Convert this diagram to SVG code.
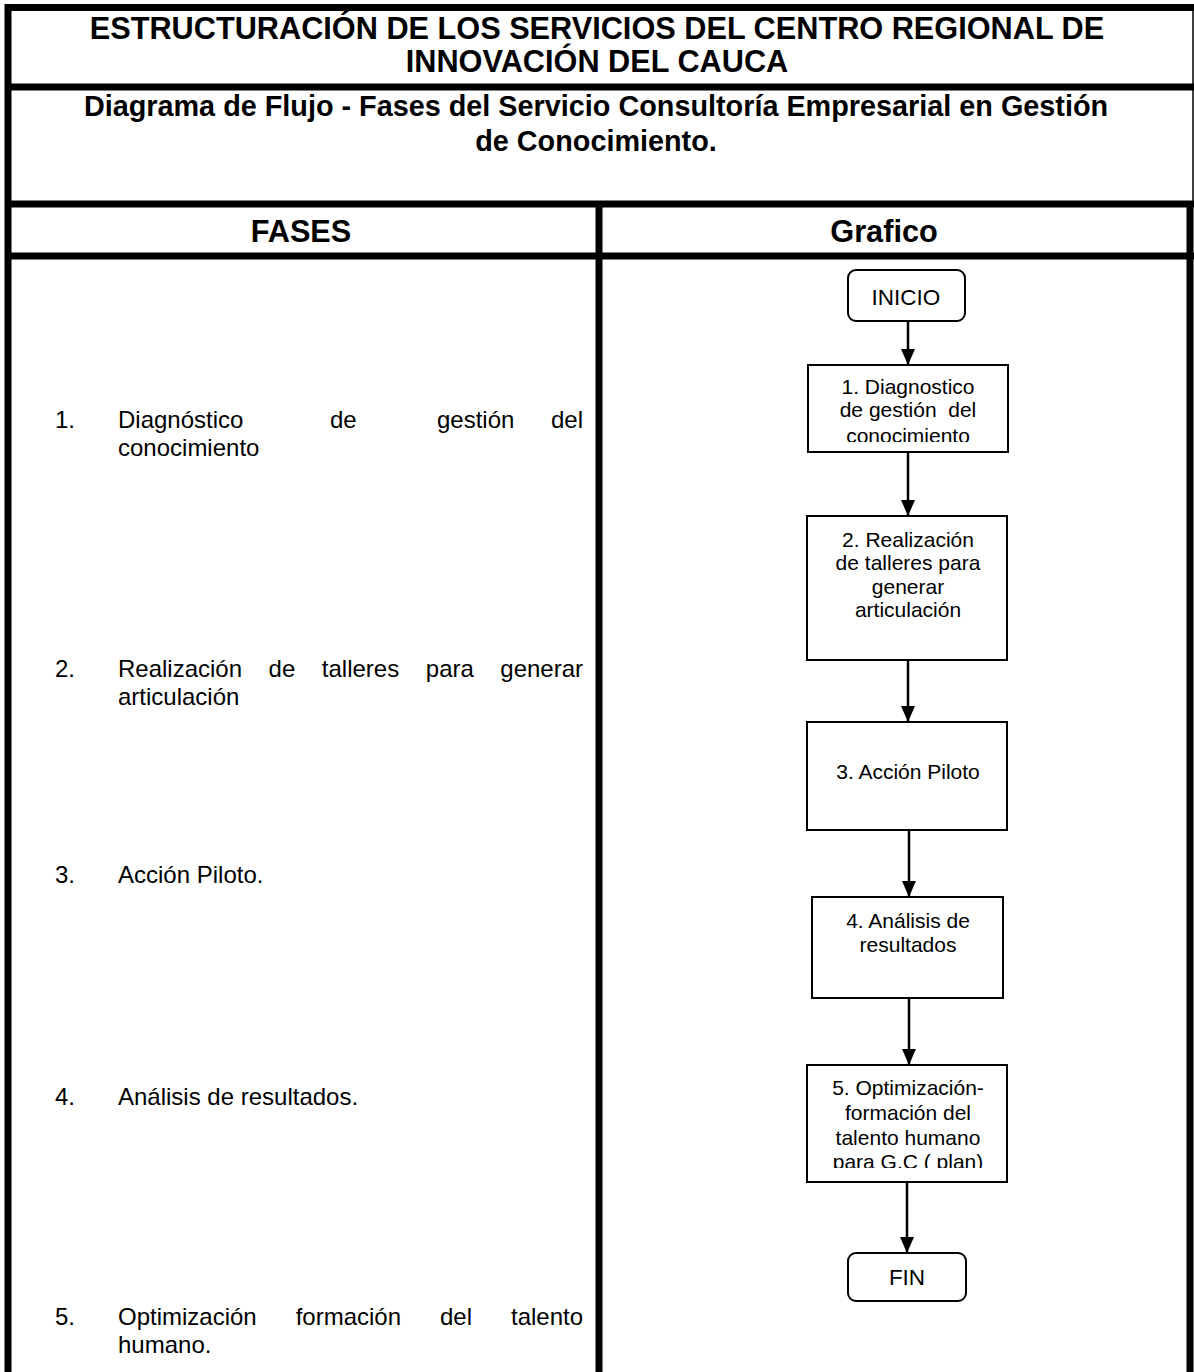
<svg xmlns="http://www.w3.org/2000/svg" width="1194" height="1372" viewBox="0 0 1194 1372">
  <defs>
    <marker id="arrow" markerWidth="16" markerHeight="14" refX="16" refY="7" orient="auto" markerUnits="userSpaceOnUse" viewBox="0 0 16 14">
      <path d="M0,0 L16,7 L0,14 Z" fill="#000"/>
    </marker>
    <clipPath id="clip1"><rect x="808" y="366" width="200" height="76"/></clipPath>
    <clipPath id="clip5"><rect x="808" y="1066" width="200" height="102"/></clipPath>
  </defs>
  <style>
    .frame { stroke: #000; stroke-width: 7; fill: none; }
    .thin { stroke: #000; stroke-width: 1.5; fill: none; }
    .title { font-family: "Liberation Sans", Arial, sans-serif; font-weight: bold; font-size: 30.7px; fill: #000; text-anchor: middle; }
    .sub { font-family: "Liberation Sans", Arial, sans-serif; font-weight: bold; font-size: 28.8px; fill: #000; text-anchor: middle; }
    .body { font-family: "Liberation Sans", Arial, sans-serif; font-size: 24px; fill: #000; }
    .box { fill: #fff; stroke: #000; stroke-width: 2; }
    .lbl { font-family: "Liberation Sans", Arial, sans-serif; font-size: 21px; fill: #000; text-anchor: middle; }
    .term { font-family: "Liberation Sans", Arial, sans-serif; font-size: 22.5px; fill: #000; text-anchor: middle; }
    .conn { stroke: #000; stroke-width: 2.5; fill: none; marker-end: url(#arrow); }
  </style>

  <rect width="1194" height="1372" fill="#fff"/>

  <!-- table frame -->
  <g id="frame">
    <line class="frame" x1="5" y1="7.5" x2="1194" y2="7.5"/>
    <line class="frame" x1="8" y1="4" x2="8" y2="1372"/>
    <line class="thin" x1="1193" y1="4" x2="1193" y2="204"/>
    <line class="frame" x1="5" y1="87" x2="1194" y2="87"/>
    <line class="frame" x1="5" y1="204" x2="1194" y2="204"/>
    <line class="frame" x1="5" y1="256" x2="1194" y2="256"/>
    <line class="frame" x1="599" y1="201" x2="599" y2="1372"/>
    <line class="frame" x1="1190" y1="201" x2="1190" y2="1372"/>
  </g>

  <!-- headings -->
  <g id="headings">
    <text class="title" x="597" y="39">ESTRUCTURACIÓN DE LOS SERVICIOS DEL CENTRO REGIONAL DE</text>
    <text class="title" x="597" y="72">INNOVACIÓN DEL CAUCA</text>
    <text class="sub" x="596" y="116">Diagrama de Flujo - Fases del Servicio Consultoría Empresarial en Gestión</text>
    <text class="sub" x="596" y="151">de Conocimiento.</text>
    <text class="title" x="301" y="242">FASES</text>
    <text class="title" x="884" y="242">Grafico</text>
  </g>

  <!-- phase list -->
  <g id="fases">
    <text class="body" x="55" y="428">1.</text>
    <text class="body" y="428"><tspan x="118">Diagnóstico</tspan><tspan x="330">de</tspan><tspan x="437">gestión</tspan><tspan x="551">del</tspan></text>
    <text class="body" x="118" y="456">conocimiento</text>

    <text class="body" x="55" y="677">2.</text>
    <text class="body" y="677"><tspan x="118">Realización</tspan><tspan x="268.6">de</tspan><tspan x="321.8">talleres</tspan><tspan x="425.8">para</tspan><tspan x="500.3">generar</tspan></text>
    <text class="body" x="118" y="705">articulación</text>

    <text class="body" x="55" y="883">3.</text>
    <text class="body" x="118" y="883">Acción Piloto.</text>

    <text class="body" x="55" y="1105">4.</text>
    <text class="body" x="118" y="1105">Análisis de resultados.</text>

    <text class="body" x="55" y="1325">5.</text>
    <text class="body" y="1325"><tspan x="118">Optimización</tspan><tspan x="295.7">formación</tspan><tspan x="440">del</tspan><tspan x="511">talento</tspan></text>
    <text class="body" x="118" y="1353">humano.</text>
  </g>

  <!-- connectors -->
  <g id="connectors">
    <line class="conn" x1="908" y1="321" x2="908" y2="365"/>
    <line class="conn" x1="908" y1="452" x2="908" y2="516"/>
    <line class="conn" x1="908" y1="660" x2="908" y2="722"/>
    <line class="conn" x1="909" y1="830" x2="909" y2="897"/>
    <line class="conn" x1="909" y1="998" x2="909" y2="1065"/>
    <line class="conn" x1="907" y1="1182" x2="907" y2="1253"/>
  </g>

  <!-- flowchart nodes -->
  <g id="inicio">
    <rect class="box" x="848" y="270" width="117" height="51" rx="8"/>
    <text class="term" x="906" y="305">INICIO</text>
  </g>
  <g id="fase1">
    <rect class="box" x="808" y="365" width="200" height="87"/>
    <g clip-path="url(#clip1)">
      <text class="lbl" x="908" y="394">1. Diagnostico</text>
      <text class="lbl" x="908" y="417" xml:space="preserve">de gestión  del</text>
      <text class="lbl" x="908" y="443">conocimiento</text>
    </g>
  </g>
  <g id="fase2">
    <rect class="box" x="807" y="516" width="200" height="144"/>
    <text class="lbl" x="908" y="547">2. Realización</text>
    <text class="lbl" x="908" y="570">de talleres para</text>
    <text class="lbl" x="908" y="594">generar</text>
    <text class="lbl" x="908" y="617">articulación</text>
  </g>
  <g id="fase3">
    <rect class="box" x="807" y="722" width="200" height="108"/>
    <text class="lbl" x="908" y="779">3. Acción Piloto</text>
  </g>
  <g id="fase4">
    <rect class="box" x="812" y="897" width="191" height="101"/>
    <text class="lbl" x="908" y="928">4. Análisis de</text>
    <text class="lbl" x="908" y="952">resultados</text>
  </g>
  <g id="fase5">
    <rect class="box" x="807" y="1065" width="200" height="117"/>
    <g clip-path="url(#clip5)">
      <text class="lbl" x="908" y="1095">5. Optimización-</text>
      <text class="lbl" x="908" y="1120">formación del</text>
      <text class="lbl" x="908" y="1145">talento humano</text>
      <text class="lbl" x="908" y="1169">para G.C ( plan)</text>
    </g>
  </g>
  <g id="fin">
    <rect class="box" x="848" y="1253" width="118" height="48" rx="8"/>
    <text class="term" x="907" y="1285">FIN</text>
  </g>
</svg>
